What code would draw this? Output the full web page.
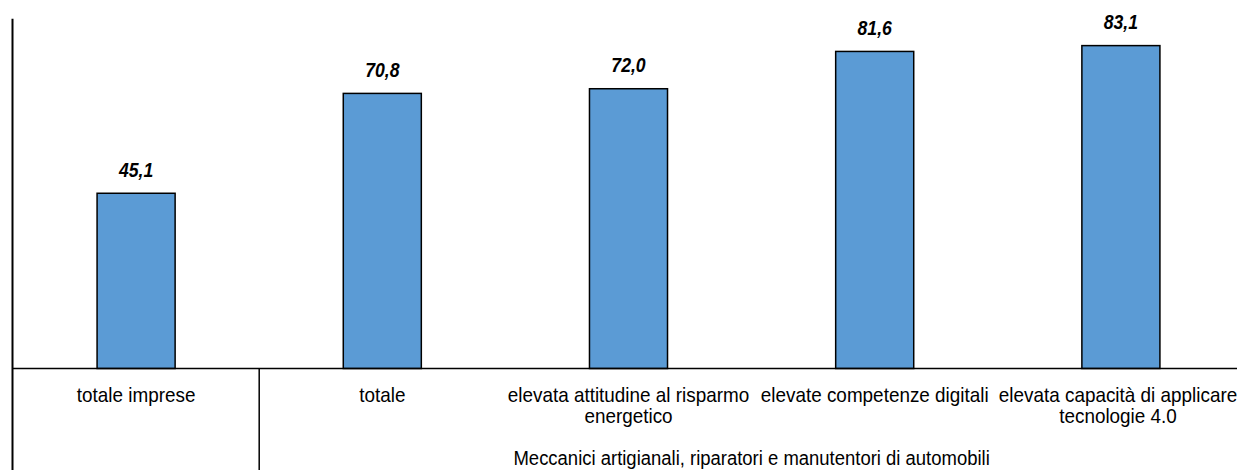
<!DOCTYPE html>
<html>
<head>
<meta charset="utf-8">
<script src="https://cdn.jsdelivr.net/npm/d3@7"></script>
<style>
  body { margin: 0; background: #fff; }
  text { font-family: 'Liberation Sans Narrow', 'Arial Narrow', 'Liberation Sans', Arial, sans-serif; }
</style>
</head>
<body>
<div id="chart"></div>
<script>
const categories = [
  ['totale imprese'],
  ['totale'],
  ['elevata attitudine al risparmo', 'energetico'],
  ['elevate competenze digitali'],
  ['elevata capacità di applicare', 'tecnologie 4.0']
]
const values = [45.1, 70.8, 72.0, 81.6, 83.1]
const groupLabel = 'Meccanici artigianali, riparatori e manutentori di automobili'

const width = 1237
const height = 470
const baseline = 368.5
// narrow look: taller glyphs squeezed horizontally
const squeeze = 0.9

const svg = d3
  .select('#chart')
  .append('svg')
  .attr('width', width)
  .attr('height', height)

const keys = categories.map((d, i) => i)

const xPositionScale = d3
  .scaleBand()
  .domain(keys)
  .range([13, 1244])
  .paddingInner(0.683)
  .paddingOuter(0.3415)

const yPositionScale = d3
  .scaleLinear()
  .domain([0, 90])
  .range([baseline, 18.8])

const fmt = v => d3.format('.1f')(v).replace('.', ',')
const mid = i => xPositionScale(i) + xPositionScale.bandwidth() / 2

// bars
svg
  .selectAll('rect')
  .data(values)
  .enter()
  .append('rect')
  .attr('x', (d, i) => xPositionScale(i))
  .attr('y', d => yPositionScale(d))
  .attr('width', xPositionScale.bandwidth())
  .attr('height', d => baseline - yPositionScale(d))
  .attr('fill', '#5b9bd5')
  .attr('stroke', '#000')
  .attr('stroke-width', 1.5)

// value labels
svg
  .selectAll('.value')
  .data(values)
  .enter()
  .append('text')
  .attr('class', 'value')
  .attr('transform', (d, i) => 'translate(' + mid(i) + ',' + (yPositionScale(d) - 16.5) + ') scale(0.84,1)')
  .attr('text-anchor', 'middle')
  .attr('font-size', 21)
  .attr('font-weight', 'bold')
  .attr('font-style', 'italic')
  .text(d => fmt(d))

// axes lines
svg
  .append('line')
  .attr('x1', 12.5)
  .attr('x2', 12.5)
  .attr('y1', yPositionScale(90))
  .attr('y2', height)
  .attr('stroke', '#000')
  .attr('stroke-width', 2)

svg
  .append('line')
  .attr('x1', 12)
  .attr('x2', width)
  .attr('y1', baseline)
  .attr('y2', baseline)
  .attr('stroke', '#000')
  .attr('stroke-width', 1.5)

// group separator between first and second category
const step = xPositionScale.step()
const sepX = xPositionScale(1) - xPositionScale.paddingInner() * step / 2
svg
  .append('line')
  .attr('x1', sepX)
  .attr('x2', sepX)
  .attr('y1', baseline)
  .attr('y2', height)
  .attr('stroke', '#000')
  .attr('stroke-width', 1.5)

// category labels
const labels = svg
  .selectAll('.cat')
  .data(categories)
  .enter()
  .append('text')
  .attr('class', 'cat')
  .attr('transform', (d, i) => 'translate(' + Math.min(mid(i), 1118) + ',402) scale(' + squeeze + ',1)')
  .attr('text-anchor', 'middle')
  .attr('font-size', 21)
  .attr('fill', '#000')

labels
  .selectAll('tspan')
  .data(d => d)
  .enter()
  .append('tspan')
  .attr('x', 0)
  .attr('y', (d, j) => j * 21.5)
  .text(d => d)

// group label centred under categories 2-5
const groupCenter = (sepX + xPositionScale.range()[1]) / 2
svg
  .append('text')
  .attr('transform', 'translate(' + groupCenter + ',465) scale(0.88,1)')
  .attr('text-anchor', 'middle')
  .attr('font-size', 21)
  .text(groupLabel)
</script>
</body>
</html>
